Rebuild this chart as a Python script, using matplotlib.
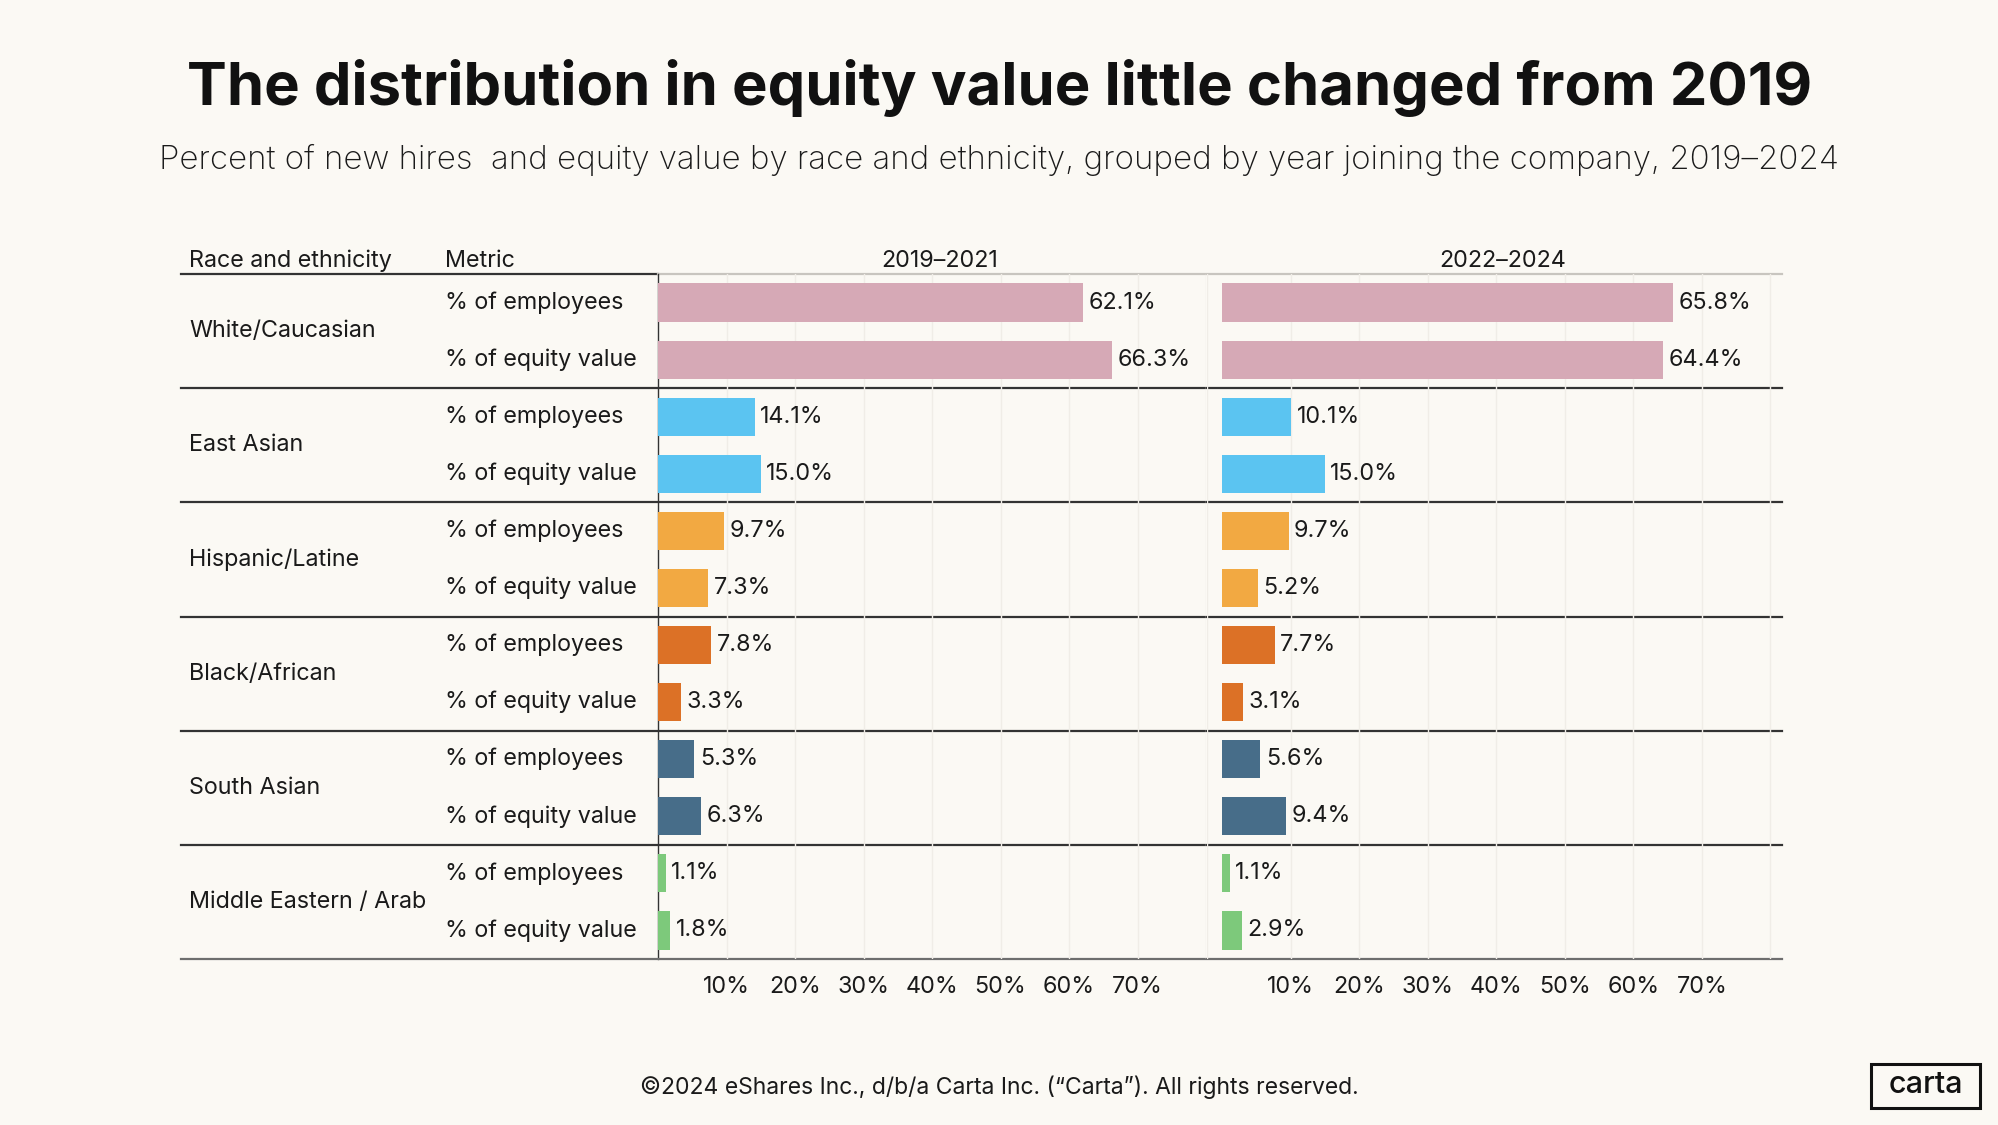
import matplotlib.pyplot as plt

groups = ["White/Caucasian", "East Asian", "Hispanic/Latine", "Black/African",
          "South Asian", "Middle Eastern / Arab"]
metrics = ["% of employees", "% of equity value"]
periods = ["2019–2021", "2022–2024"]

# employees, equity per group
vals_2019 = [62.1, 66.3, 14.1, 15.0, 9.7, 7.3, 7.8, 3.3, 5.3, 6.3, 1.1, 1.8]
vals_2022 = [65.8, 64.4, 10.1, 15.0, 9.7, 5.2, 7.7, 3.1, 5.6, 9.4, 1.1, 2.9]

colors = ["#D6A9B6", "#5BC4F1", "#F2A942", "#DC7126", "#476D89", "#7DC97B"]
ticks = [10, 20, 30, 40, 50, 60, 70]
ticklabels = ["10%", "20%", "30%", "40%", "50%", "60%", "70%"]

BG = "#FBF9F4"
TXT = "#1a1a1a"
FONT = "Inter"
FS = 16.8
W, H = 1999, 1125

# table layout in pixels
top, bottom = 274, 959
left, right = 181, 1782
split = 658
row_h = (bottom - top) / (2 * len(groups))

fig = plt.figure(figsize=(W / 100, H / 100), dpi=100, facecolor=BG)
bg = fig.add_axes([0, 0, 1, 1])
bg.set_xlim(0, W)
bg.set_ylim(H, 0)
bg.axis("off")
bg.set_facecolor(BG)

bg.text(W / 2, 88, "The distribution in equity value little changed from 2019",
        ha="center", va="center", fontsize=43, fontweight="bold",
        family=FONT, color="#111111")
bg.text(W / 2, 160, "Percent of new hires  and equity value by race and ethnicity, "
        "grouped by year joining the company, 2019–2024",
        ha="center", va="center", fontsize=23.8, fontweight="light",
        family=FONT, color=TXT)

bg.text(189, 261, "Race and ethnicity", ha="left", va="center", fontsize=FS,
        family=FONT, color=TXT)
bg.text(445, 261, "Metric", ha="left", va="center", fontsize=FS,
        family=FONT, color=TXT)

# table lines
bg.plot([left, split], [top, top], color="#333333", lw=1.6)
bg.plot([split, right], [top, top], color="#C8C5BF", lw=1.6)
bg.plot([split, split], [top, bottom], color="#333333", lw=1.0)
for k in range(1, len(groups) + 1):
    y = top + 2 * k * row_h
    c = "#333333" if k < len(groups) else "#6E6E6E"
    bg.plot([left, right], [y, y], color=c, lw=1.6)

for k, g in enumerate(groups):
    yc = top + (2 * k + 1) * row_h
    bg.text(189, yc, g, ha="left", va="center", fontsize=FS,
            family=FONT, color=TXT)
    for j, m in enumerate(metrics):
        bg.text(445, top + (2 * k + j + 0.5) * row_h, m, ha="left",
                va="center", fontsize=FS, family=FONT, color=TXT)

bar_colors = [c for c in colors for _ in metrics]
ypos = list(range(len(vals_2019)))

panels = [
    (vals_2019, [split, 1206], (0, 80)),
    (vals_2022, [1207, right], (-2.2, 81.7)),
]
for (vals, (x0, x1), xlim), period in zip(panels, periods):
    ax = fig.add_axes([x0 / W, 1 - bottom / H, (x1 - x0) / W, (bottom - top) / H])
    ax.patch.set_alpha(0)
    for g in [10, 20, 30, 40, 50, 60, 70, 80]:
        ax.axvline(g, color="#F0EDE7", lw=1, zorder=0)
    if xlim[0] < 0:
        ax.axvline(xlim[0], color="#F0EDE7", lw=1, zorder=0)
    ax.barh(ypos, vals, height=0.67, color=bar_colors, zorder=2)
    for y, v in zip(ypos, vals):
        ax.text(v + 0.8, y, f"{v:.1f}%", ha="left", va="center",
                fontsize=FS, family=FONT, color=TXT)
    ax.set_xlim(*xlim)
    ax.set_ylim(len(vals) - 0.5, -0.5)
    ax.set_yticks([])
    ax.set_xticks(ticks)
    ax.set_xticklabels(ticklabels, fontsize=FS, family=FONT, color=TXT)
    ax.tick_params(axis="x", length=0, pad=12)
    for s in ax.spines.values():
        s.set_visible(False)
    bg.text((x0 + x1) / 2 + 8, 261, period, ha="center", va="center",
            fontsize=FS, family=FONT, color=TXT)

bg.text(W / 2, 1087, "©2024 eShares Inc., d/b/a Carta Inc. (“Carta”). All rights reserved.",
        ha="center", va="center", fontsize=16.5, family=FONT, color=TXT)

# carta logo box
bg.add_patch(plt.Rectangle((1871, 1064), 109, 44, fill=False,
                           edgecolor="#111111", lw=2.2))
bg.text(1925.5, 1085, "carta", ha="center", va="center", fontsize=22,
        family=FONT, fontweight="medium", color="#111111")

fig.savefig("out.png", dpi=100, facecolor=BG)
